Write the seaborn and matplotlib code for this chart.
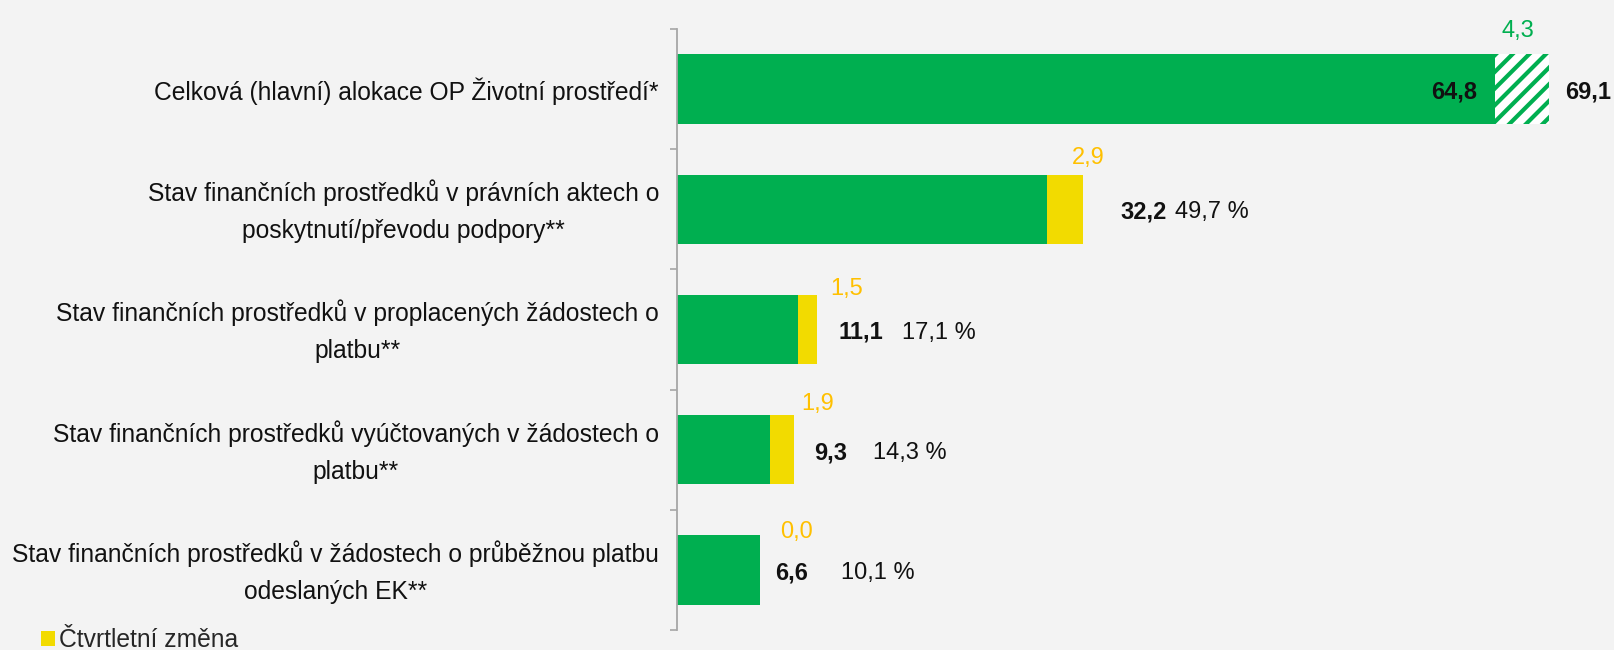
import matplotlib
matplotlib.use("Agg")
import matplotlib.pyplot as plt
import pandas as pd
import seaborn as sns
from matplotlib.patches import Patch

# --- data ---------------------------------------------------------------
kategorie = [
    "Celková (hlavní) alokace OP Životní prostředí*",
    "Stav finančních prostředků v právních aktech o\nposkytnutí/převodu podpory**",
    "Stav finančních prostředků v proplacených žádostech o\nplatbu**",
    "Stav finančních prostředků vyúčtovaných v žádostech o\nplatbu**",
    "Stav finančních prostředků v žádostech o průběžnou platbu\nodeslaných EK**",
]
celkem = [69.1, 32.2, 11.1, 9.3, 6.6]      # mld. Kč
zmena = [4.3, 2.9, 1.5, 1.9, 0.0]          # čtvrtletní změna
podil = [None, 49.7, 17.1, 14.3, 10.1]     # % z alokace
zaklad = [round(c - z, 1) for c, z in zip(celkem, zmena)]

# --- styles -------------------------------------------------------------
BG = "#F3F3F3"
GREEN = "#00AF50"
YELLOW = "#F2DB00"
ORANGE = "#FFC000"
SPINE = "#A6A6A6"
FS = 17
FS_CAT = 17.7
BAR_W = 0.577

# pixel offsets for the annotations (dx, dy)
bold_dx = [16, 37, 21, 20, 15]
pct_dx = [None, 92, 85, 79, 81]
chg_dx = [-4, 5, 30, 23, 36]
chg_dy = [23, 17, 6, 11, 3]
NUM_DY = -3

sns.set_theme(style="white")
plt.rcParams["font.family"] = ["Liberation Sans", "DejaVu Sans"]
plt.rcParams["hatch.linewidth"] = 3.0

fig = plt.figure(figsize=(16.14, 6.5), dpi=100, facecolor=BG)
ax = fig.add_axes([677 / 1614, 20 / 650, (1614 - 677) / 1614, 601 / 650])
ax.set_facecolor(BG)

df = pd.DataFrame({"kat": kategorie, "celkem": celkem, "zaklad": zaklad})

# full length (base + change): hatched for the allocation, yellow otherwise
sns.barplot(data=df, x="celkem", y="kat", hue="kat",
            palette=[BG] + [YELLOW] * 4, width=BAR_W, saturation=1,
            linewidth=0, legend=False, ax=ax)
top = ax.patches[0]
top.set_hatch("//")
top.set_edgecolor(GREEN)
top.set_facecolor("white")

# base value in green on top
sns.barplot(data=df, x="zaklad", y="kat", color=GREEN, width=BAR_W,
            saturation=1, linewidth=0, ax=ax)

ax.set_xlim(0, (1614 - 677) / 12.62)
ax.set_ylim(4.5, -0.5)
ax.set_xlabel("")
ax.set_ylabel("")
ax.set_xticks([])
ax.set_yticks([])
ax.set_yticks([i - 0.5 for i in range(len(kategorie) + 1)], minor=True)
ax.tick_params(axis="y", which="minor", left=True, length=5, width=1.2,
               color=SPINE, direction="out")
for s in ("top", "right", "bottom"):
    ax.spines[s].set_visible(False)
ax.spines["left"].set_color(SPINE)
ax.spines["left"].set_linewidth(1.3)


def fmt(v):
    return f"{v:.1f}".replace(".", ",")


for i, kat in enumerate(kategorie):
    # category label
    ax.annotate(kat, xy=(0, i), xycoords=("axes fraction", "data"),
                xytext=(-18, -2), textcoords="offset pixels",
                ha="right", va="center", ma="center", fontsize=FS_CAT,
                linespacing=1.68, color="#111111")
    bar_top = i - BAR_W / 2
    if i == 0:
        ax.annotate(fmt(zaklad[i]), xy=(zaklad[i], i), xytext=(-18, NUM_DY),
                    textcoords="offset pixels", ha="right", va="center",
                    fontsize=FS, fontweight="bold", color="#111111")
        ax.annotate(fmt(celkem[i]), xy=(celkem[i], i),
                    xytext=(bold_dx[i], NUM_DY),
                    textcoords="offset pixels", ha="left", va="center",
                    fontsize=FS, fontweight="bold", color="#111111")
        ax.annotate(fmt(zmena[i]), xy=(zaklad[i] + zmena[i] / 2, bar_top),
                    xytext=(chg_dx[i], chg_dy[i]), textcoords="offset pixels",
                    ha="center", va="center", fontsize=FS, color=GREEN)
    else:
        ax.annotate(fmt(celkem[i]), xy=(celkem[i], i),
                    xytext=(bold_dx[i], NUM_DY),
                    textcoords="offset pixels", ha="left", va="center",
                    fontsize=FS, fontweight="bold", color="#111111")
        ax.annotate(fmt(podil[i]) + " %", xy=(celkem[i], i),
                    xytext=(pct_dx[i], NUM_DY), textcoords="offset pixels",
                    ha="left", va="center", fontsize=FS, color="#111111")
        ax.annotate(fmt(zmena[i]), xy=(celkem[i], bar_top),
                    xytext=(chg_dx[i], chg_dy[i]), textcoords="offset pixels",
                    ha="center", va="center", fontsize=FS, color=ORANGE)

fig.legend(handles=[Patch(facecolor=YELLOW, edgecolor="none")],
           labels=["Čtvrtletní změna"], loc="center left",
           bbox_to_anchor=(41 / 1614, 1 - 640 / 650), frameon=False,
           fontsize=FS_CAT, handlelength=0.55, handleheight=0.55,
           handletextpad=0.2, borderpad=0, borderaxespad=0)

fig.savefig("out.png", dpi=100, facecolor=BG)
